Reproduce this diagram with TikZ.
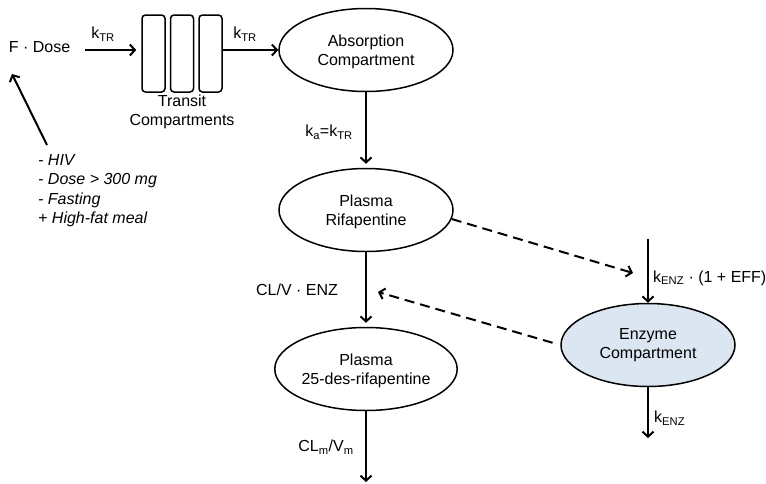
\documentclass[tikz,border=0pt]{standalone}
\usepackage{fontspec}
\setmainfont{Liberation Sans}
\usetikzlibrary{shapes.geometric,arrows.meta}
\definecolor{enzfill}{RGB}{220,230,242}
\begin{document}
\begin{tikzpicture}[x=1pt,y=-1pt,
  font=\fontsize{16}{19.5}\selectfont,
  comp/.style={draw=black,line width=1.5pt,ellipse,minimum width=174pt,minimum height=83pt,inner sep=0pt,align=center},
  tbox/.style={draw=black,line width=1.5pt,rounded corners=3.5pt,minimum width=23pt,minimum height=77pt,inner sep=0pt},
  arr/.style={line width=2pt,-{Straight Barb[length=5pt,width=11pt]}},
  darr/.style={arr,dash pattern=on 10pt off 6pt},
  lbl/.style={inner sep=0pt}]
\useasboundingbox (0,0) rectangle (766,483);

% nodes
\node[lbl] (dose) at (39.5,47) {F · Dose};
\node[tbox] (t1) at (153.5,53.5) {};
\node[tbox] (t2) at (182,53.5) {};
\node[tbox] (t3) at (210.5,53.5) {};
\node[lbl,align=center] (tlab) at (182,112) {Transit\\Compartments};
\node[comp] (abs) at (366,50) {\rule{0pt}{15pt}Absorption\\Compartment};
\node[comp] (rif) at (366,210) {\rule{0pt}{15pt}Plasma\\Rifapentine};
\node[comp] (des) at (366,369) {\rule{0pt}{15pt}Plasma\\25-des-rifapentine};
\node[comp,fill=enzfill] (enz) at (648,345) {Enzyme\\Compartment};
\node[lbl,anchor=north west,align=left,font=\fontsize{16}{19.5}\selectfont\itshape] (cov) at (38,154)
  {- HIV\\- Dose > 300 mg\\- Fasting\\+ High-fat meal};

% free ends
\coordinate (ct) at (47,145);
\coordinate (ch) at (12,74);
\coordinate (desout) at (366,482);
\coordinate (ein) at (648,239);
\coordinate (eout) at (648,438);
\coordinate (d1e) at (633,273);
\coordinate (d2e) at (378,292);

% connectors
\draw[arr,shorten <=15pt,shorten >=5pt] (dose.east |- abs.west) -- (t1.west |- abs.west);
\draw[arr] (t3.east |- abs.west) -- (abs.west);
\draw[arr,shorten >=4pt] (abs.south) -- (rif.north);
\draw[arr,shorten >=4pt] (rif.south) -- (des.north);
\draw[arr] (des.south) -- (desout);
\draw[arr] (ein) -- (enz.north);
\draw[arr] (enz.south) -- (eout);
\draw[darr] (rif.-6) -- (d1e);
\draw[darr,shorten <=8pt] (enz.west) -- (d2e);
\draw[arr] (ct) -- (ch);

% labels
\node[lbl] (k1) at (103,34) {k\textsubscript{TR}};
\node[lbl] (k2) at (245,34) {k\textsubscript{TR}};
\node[lbl] (ka) at (329,132) {k\textsubscript{a}=k\textsubscript{TR}};
\node[lbl] (clv) at (297,290) {CL/V · ENZ};
\node[lbl] (clm) at (326,447) {CL\textsubscript{m}/V\textsubscript{m}};
\node[lbl,anchor=west] (kin) at (653,278) {k\textsubscript{ENZ} · (1 + EFF)};
\node[lbl,anchor=west] (kout) at (654,418) {k\textsubscript{ENZ}};
\end{tikzpicture}
\end{document}
